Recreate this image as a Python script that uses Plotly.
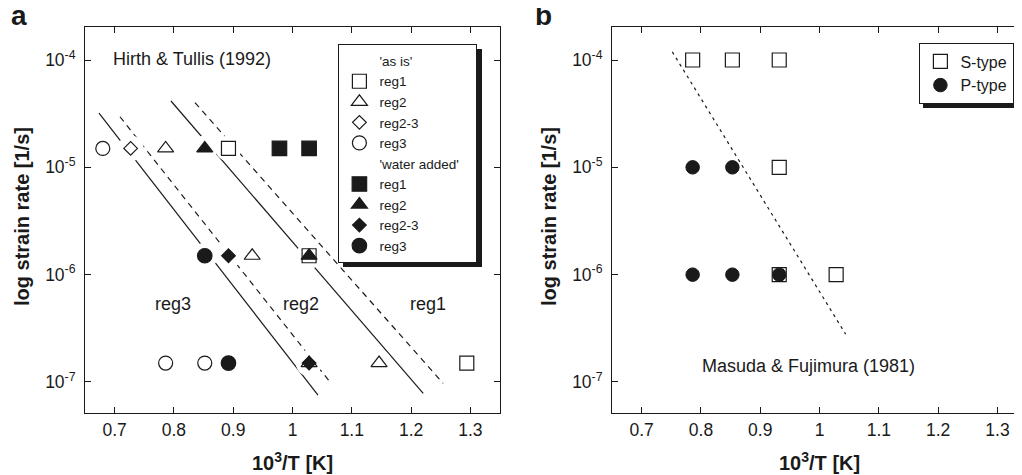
import plotly.graph_objects as go

# ---------------- data ----------------
# Panel a : Hirth & Tullis (1992)   x = 10^3/T, y = strain rate [1/s]
asis_reg1_x = [0.892, 1.028, 1.294]
asis_reg1_y = [1.5e-5, 1.5e-6, 1.5e-7]
asis_reg2_x = [0.786, 0.932, 1.028, 1.146]
asis_reg2_y = [1.5e-5, 1.5e-6, 1.5e-7, 1.5e-7]
asis_reg23_x = [0.727]
asis_reg23_y = [1.5e-5]
asis_reg3_x = [0.680, 0.786, 0.852]
asis_reg3_y = [1.5e-5, 1.5e-7, 1.5e-7]

water_reg1_x = [0.978, 1.028]
water_reg1_y = [1.5e-5, 1.5e-5]
water_reg2_x = [0.852, 1.028]
water_reg2_y = [1.5e-5, 1.5e-6]
water_reg23_x = [0.892, 1.028]
water_reg23_y = [1.5e-6, 1.5e-7]
water_reg3_x = [0.852, 0.892]
water_reg3_y = [1.5e-6, 1.5e-7]

# regime boundaries (end points)
bound_solid1_x = [0.6736, 1.043]
bound_solid1_y = [3.2e-5, 7.55e-8]
bound_dash1_x = [0.709, 1.066]
bound_dash1_y = [2.96e-5, 9.55e-8]
bound_solid2_x = [0.795, 1.2205]
bound_solid2_y = [4.15e-5, 7.83e-8]
bound_dash2_x = [0.8355, 1.254]
bound_dash2_y = [4.0e-5, 9.7e-8]

region_labels = ["reg3", "reg2", "reg1"]
region_label_x = [0.798, 1.014, 1.228]
region_label_logy = [-6.274, -6.274, -6.274]

# Panel b : Masuda & Fujimura (1981)
stype_x = [0.786, 0.853, 0.932, 0.932, 0.932, 1.028]
stype_y = [1e-4, 1e-4, 1e-4, 1e-5, 1e-6, 1e-6]
ptype_x = [0.786, 0.853, 0.786, 0.853, 0.932]
ptype_y = [1e-5, 1e-5, 1e-6, 1e-6, 1e-6]
bound_b_x = [0.7517, 1.044]
bound_b_y = [1.19e-4, 2.79e-7]

x_tickvals = [0.7, 0.8, 0.9, 1.0, 1.1, 1.2, 1.3]
x_ticktext = ["0.7", "0.8", "0.9", "1", "1.1", "1.2", "1.3"]
y_tickvals = [1e-7, 1e-6, 1e-5, 1e-4]
y_ticktext = ["10<sup>-7</sup>", "10<sup>-6</sup>", "10<sup>-5</sup>", "10<sup>-4</sup>"]

# ---------------- figure ----------------
# the page body has an 8px margin, so the figure is 8px smaller than the window
OFF = 8
W, H = 1022 - OFF, 475 - OFF
FONT = "Liberation Sans, Arial, Helvetica, sans-serif"
INK = "#1a1a1a"


def px_x(p):
    """window pixel x -> paper fraction"""
    return (p - OFF) / W


def px_y(p):
    """window pixel y -> paper fraction"""
    return 1 - (p - OFF) / H


fig = go.Figure()

# boundary lines (panel a)
for bx, by, dash in [(bound_solid1_x, bound_solid1_y, "solid"),
                     (bound_dash1_x, bound_dash1_y, "6px,5px"),
                     (bound_solid2_x, bound_solid2_y, "solid"),
                     (bound_dash2_x, bound_dash2_y, "6px,5px")]:
    fig.add_trace(go.Scatter(x=bx, y=by, mode="lines", showlegend=False,
                             line=dict(color=INK, width=1.2, dash=dash),
                             hoverinfo="skip", xaxis="x", yaxis="y"))

# white halos behind markers (panel a)
all_x = (asis_reg1_x + asis_reg2_x + asis_reg23_x + asis_reg3_x +
         water_reg1_x + water_reg2_x + water_reg23_x + water_reg3_x)
all_y = (asis_reg1_y + asis_reg2_y + asis_reg23_y + asis_reg3_y +
         water_reg1_y + water_reg2_y + water_reg23_y + water_reg3_y)
fig.add_trace(go.Scatter(x=all_x, y=all_y, mode="markers", showlegend=False,
                         marker=dict(symbol="circle", size=26, color="white"),
                         hoverinfo="skip", xaxis="x", yaxis="y"))


def header(name):
    fig.add_trace(go.Scatter(x=[None], y=[None], mode="markers", name=name,
                             marker=dict(color="rgba(0,0,0,0)", size=1),
                             legend="legend", xaxis="x", yaxis="y"))


def series(xs, ys, name, symbol, size, filled):
    fig.add_trace(go.Scatter(
        x=xs, y=ys, mode="markers", name=name, legend="legend",
        marker=dict(symbol=symbol, size=size,
                    color=INK if filled else "white",
                    line=dict(color=INK, width=1.2)),
        xaxis="x", yaxis="y"))


header("'as is'")
series(asis_reg1_x, asis_reg1_y, "reg1", "square", 14, False)
series(asis_reg2_x, asis_reg2_y, "reg2", "triangle-up", 14, False)
series(asis_reg23_x, asis_reg23_y, "reg2-3", "diamond", 10.5, False)
series(asis_reg3_x, asis_reg3_y, "reg3", "circle", 14, False)
header("'water added'&nbsp;&nbsp;&nbsp;")
series(water_reg1_x, water_reg1_y, "reg1", "square", 14.5, True)
series(water_reg2_x, water_reg2_y, "reg2", "triangle-up", 14, True)
series(water_reg23_x, water_reg23_y, "reg2-3", "diamond", 10.5, True)
series(water_reg3_x, water_reg3_y, "reg3", "circle", 14.5, True)

# panel b
fig.add_trace(go.Scatter(x=bound_b_x, y=bound_b_y, mode="lines", showlegend=False,
                         line=dict(color=INK, width=1.2, dash="3px,4px"),
                         hoverinfo="skip", xaxis="x2", yaxis="y2"))
fig.add_trace(go.Scatter(x=stype_x, y=stype_y, mode="markers", name="S-type",
                         legend="legend2",
                         marker=dict(symbol="square", size=14, color="white",
                                     line=dict(color=INK, width=1.2)),
                         xaxis="x2", yaxis="y2"))
fig.add_trace(go.Scatter(x=ptype_x, y=ptype_y, mode="markers", name="P-type",
                         legend="legend2",
                         marker=dict(symbol="circle", size=13.5, color=INK,
                                     line=dict(color=INK, width=1)),
                         xaxis="x2", yaxis="y2"))

axis_common = dict(showline=True, linecolor=INK, linewidth=1, mirror="ticks",
                   ticks="inside", ticklen=6, tickcolor=INK, tickwidth=1,
                   showgrid=False, zeroline=False,
                   tickfont=dict(family=FONT, size=17.5, color=INK))
ydom = [px_y(413), px_y(27)]
yrange = [-7.289, -3.6925]

fig.update_layout(
    width=W, height=H, margin=dict(l=0, r=0, t=0, b=0),
    paper_bgcolor="white", plot_bgcolor="white",
    font=dict(family=FONT, color=INK),
    xaxis=dict(domain=[px_x(85), px_x(500)], range=[0.65, 1.35], ticklabelstandoff=1,
               tickvals=x_tickvals, ticktext=x_ticktext, anchor="y", **axis_common),
    yaxis=dict(domain=ydom, type="log", range=yrange, tickvals=y_tickvals,
               ticklabelstandoff=5, ticktext=y_ticktext, anchor="x", **axis_common),
    xaxis2=dict(domain=[px_x(612), 1.0], range=[0.65, 0.65 + 410 / 593], ticklabelstandoff=1,
                tickvals=x_tickvals, ticktext=x_ticktext, anchor="y2", **axis_common),
    yaxis2=dict(domain=ydom, type="log", range=yrange, tickvals=y_tickvals,
                ticklabelstandoff=5, ticktext=y_ticktext, anchor="x2", **axis_common),
    legend=dict(x=px_x(338), y=px_y(44), xanchor="left", yanchor="top",
                bgcolor="white", bordercolor=INK, borderwidth=1.4,
                font=dict(family=FONT, size=13.5, color=INK),
                tracegroupgap=0, itemwidth=30),
    legend2=dict(x=px_x(919), y=px_y(43), xanchor="left", yanchor="top",
                 bgcolor="white", bordercolor=INK, borderwidth=1.4,
                 font=dict(family=FONT, size=16, color=INK),
                 tracegroupgap=0, itemwidth=30),
    showlegend=True,
)

# legend drop shadows (behind legends)
fig.add_shape(type="rect", xref="paper", yref="paper", layer="above",
              x0=px_x(343), x1=px_x(482), y0=px_y(267), y1=px_y(49),
              fillcolor=INK, line=dict(width=0))
fig.add_shape(type="rect", xref="paper", yref="paper", layer="above",
              x0=px_x(923), x1=px_x(1017), y0=px_y(108), y1=px_y(47),
              fillcolor=INK, line=dict(width=0))

ann = []
ann.append(dict(text="Hirth & Tullis (1992)", x=0.830, y=-3.99, xref="x", yref="y",
                showarrow=False, font=dict(size=18)))
for t, lx, ly in zip(region_labels, region_label_x, region_label_logy):
    ann.append(dict(text=t, x=lx, y=ly, xref="x", yref="y", showarrow=False,
                    font=dict(size=18)))
ann.append(dict(text="Masuda & Fujimura (1981)", x=0.982, y=-6.852, xref="x2", yref="y2",
                showarrow=False, font=dict(size=18)))
# panel letters
ann.append(dict(text="<b>a</b>", x=px_x(9), y=px_y(15), xref="paper", yref="paper",
                xanchor="left", yanchor="middle", showarrow=False, font=dict(size=28)))
ann.append(dict(text="<b>b</b>", x=px_x(533), y=px_y(15), xref="paper", yref="paper",
                xanchor="left", yanchor="middle", showarrow=False, font=dict(size=28)))
# axis titles
for cx in [292.5, 819.5]:
    ann.append(dict(text="<b>10<sup>3</sup>/T [K]</b>", x=px_x(cx), y=px_y(461),
                    xref="paper", yref="paper", xanchor="center", yanchor="middle",
                    showarrow=False, font=dict(size=20)))
for cx in [22, 549]:
    ann.append(dict(text="<b>log strain rate [1/s]</b>", x=px_x(cx), y=px_y(217),
                    xref="paper", yref="paper", xanchor="center", yanchor="middle",
                    textangle=-90, showarrow=False, font=dict(size=20)))
fig.update_layout(annotations=ann)

fig.write_html("out.html")
